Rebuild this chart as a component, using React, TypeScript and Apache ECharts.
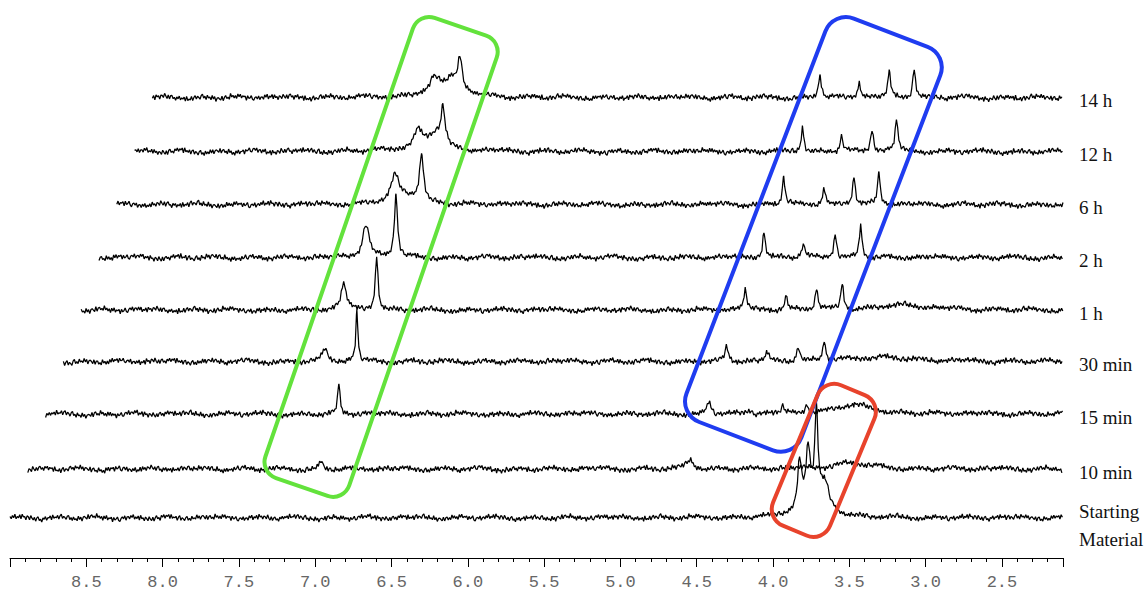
import React, { useEffect, useRef } from "react";
import * as echarts from "echarts";

// ---------- data ----------
const ROW_LABELS = ["Starting\nMaterial", "10 min", "15 min", "30 min", "1 h", "2 h", "6 h", "12 h", "14 h"];
const PPM_MAX = 9.0;
const PPM_MIN = 2.1;

// peaks per trace: [ppm, height, half-width]
const PEAKS_SM = [[3.826, 48, 0.014], [3.77, 52, 0.016], [3.716, 88, 0.012], [3.66, 26, 0.035], [3.75, 18, 0.09]];
const PEAKS_10MIN = [[7.079, 9, 0.012], [4.661, 9, 0.03], [3.6, 6, 0.15]];
const PEAKS_15MIN = [[7.078, 30, 0.009], [4.653, 13, 0.015], [4.39, 4, 0.015], [4.17, 6, 0.012], [4.01, 9, 0.012], [3.7, 9, 0.15]];
const PEAKS_30MIN = [[7.077, 50, 0.008], [7.286, 13, 0.02], [4.654, 16, 0.011], [4.388, 9, 0.012], [4.185, 16, 0.011], [4.014, 20, 0.011], [3.65, 5, 0.2]];
const PEAKS_1H = [[7.064, 55, 0.011], [7.279, 27, 0.02], [4.649, 21, 0.011], [4.382, 13, 0.012], [4.181, 21, 0.011], [4.013, 25, 0.011], [3.635, 5, 0.2]];
const PEAKS_2H = [[7.054, 62, 0.013], [7.251, 34, 0.025], [4.643, 26, 0.011], [4.385, 13, 0.013], [4.176, 25, 0.011], [4.009, 32, 0.011]];
const PEAKS_6H = [[7.003, 48, 0.016], [7.178, 25, 0.03], [7.1, 8, 0.1], [4.63, 27, 0.011], [4.366, 19, 0.011], [4.17, 28, 0.011], [4.006, 31, 0.011]];
const PEAKS_12H = [[6.98, 38, 0.018], [7.03, 10, 0.03], [7.143, 13, 0.025], [7.1, 11, 0.11], [4.623, 25, 0.011], [4.367, 16, 0.011], [4.168, 23, 0.011], [4.007, 33, 0.011]];
const PEAKS_14H = [[6.985, 35, 0.018], [7.037, 12, 0.03], [7.155, 10, 0.025], [7.11, 12, 0.11], [4.626, 24, 0.011], [4.368, 15, 0.011], [4.172, 24, 0.011], [4.008, 30, 0.011]];
const PEAKS = [PEAKS_SM, PEAKS_10MIN, PEAKS_15MIN, PEAKS_30MIN, PEAKS_1H, PEAKS_2H, PEAKS_6H, PEAKS_12H, PEAKS_14H];

// baseline noise texture (hand-written values)
const NOISE_A = [0.6, -1.1, 1.4, -0.3, 1.9, -1.6, 0.2, -0.8, 1.2, -1.9, 1.7, -0.5, 0.4, -2.0, 0.9, 0.3, -1.3, 1.8, -0.1, -1.5, 1.1, -1.8, 0.7, 1.5, -0.9, 0.1, -2.1, 1.0, -0.4, 1.6, -1.2, 0.8, -0.2, 1.3, -1.7, 2.0, -1.0, 0.0, -0.7, 1.2, -1.9, 0.5, 1.7, -1.4, 0.6, -0.3, -1.6, 0.9, 1.9, -1.1, 0.4, -1.8, 1.5, -0.6, 0.2, -1.4, 1.8, -0.8, 1.0, -2.0, 0.3, 0.9, -0.2, -1.2, 1.6, -1.7, 0.7, 1.3, -1.0, 0.1, -1.5, 2.1, -0.5, 0.8, -1.3, 0.3, -1.9, 1.4, -0.7, 1.7, -1.1, 0.6, -0.1, 1.0, -2.0, 1.3, -0.6, 0.2, 1.8, -0.9, -1.6, 0.7, 1.2, -0.4, 1.9, -1.4, 0.5];
const NOISE_B = [0.4, 0.9, 1.2, 0.6, -0.2, -0.9, -1.3, -0.8, 0.1, 0.7, 1.1, 0.5, -0.3, -1.0, -0.6, 0.2, 1.0, 1.4, 0.8, 0.0, -0.7, -1.2, -1.4, -0.5, 0.3, 0.6, 0.2, -0.4, -1.1, -0.8, 0.1, 0.9, 1.3, 0.7, -0.1, -0.6, -0.9, -0.3, 0.5, 1.0, 0.3];

// ---------- layout ----------
const W = 1148;
const H = 591;
const AXIS_LEFT = 10;
const AXIS_RIGHT = 1063;
const PX_PER_PPM = (AXIS_RIGHT - AXIS_LEFT) / (PPM_MAX - PPM_MIN);
const ROW_SHIFT = 17.8;
const BASELINES = [521, 469, 414, 361.5, 310, 257.5, 204.5, 151.5, 97.5];
const STEP = 0.008;
const NOISE_GAIN_A = 1.35;
const NOISE_GAIN_B = 1.2;

function rowEnd(i: number) {
  return PPM_MIN + (i * ROW_SHIFT) / PX_PER_PPM;
}

function buildTrace(i: number) {
  const peaks = PEAKS[i];
  const end = rowEnd(i);
  const n = Math.floor((PPM_MAX - end) / STEP);
  const xs: { ppm: number; k: number }[] = [];
  for (let k = 0; k <= n; k++) xs.push({ ppm: PPM_MAX - k * STEP, k });
  for (const p of peaks) {
    if (p[0] <= PPM_MAX && p[0] >= end) xs.push({ ppm: p[0], k: Math.round((PPM_MAX - p[0]) / STEP) });
  }
  xs.sort((a, b) => b.ppm - a.ppm);
  return xs.map(({ ppm, k }) => {
    let y =
      NOISE_A[(k + i * 13) % NOISE_A.length] * NOISE_GAIN_A +
      NOISE_B[(Math.floor(k / 4) + i * 7) % NOISE_B.length] * NOISE_GAIN_B;
    for (const [c, h, w] of peaks) {
      const d = (ppm - c) / w;
      y += h / (1 + d * d);
    }
    return [ppm, y];
  });
}

export default function App() {
  const ref = useRef<HTMLDivElement>(null);
  useEffect(() => {
    document.body.style.margin = "0";
    if (!ref.current) return;
    const chart = echarts.init(ref.current, undefined, { renderer: "svg" });
    const grids: any[] = [];
    const xAxes: any[] = [];
    const yAxes: any[] = [];
    const series: any[] = [];
    for (let i = 0; i < ROW_LABELS.length; i++) {
      const yMax = i === 0 ? 120 : 80;
      grids.push({
        left: AXIS_LEFT + i * ROW_SHIFT,
        right: W - AXIS_RIGHT,
        top: BASELINES[i] - yMax,
        height: yMax + 10,
      });
      if (i === 0) {
        xAxes.push({
          gridIndex: 0,
          type: "value",
          inverse: true,
          min: PPM_MIN,
          max: PPM_MAX,
          splitNumber: 14,
          minInterval: 0.5,
          maxInterval: 0.5,
          offset: 561.5 - (BASELINES[0] + 10),
          axisLine: { show: true, onZero: false, lineStyle: { color: "#000", width: 1 } },
          axisTick: { show: true, inside: false, length: 9, lineStyle: { color: "#000", width: 1 } },
          minorTick: { show: true, splitNumber: 5, length: 4, lineStyle: { color: "#000", width: 1 } },
          splitLine: { show: false },
          minorSplitLine: { show: false },
          axisLabel: {
            show: true,
            margin: 16,
            showMinLabel: false,
            showMaxLabel: false,
            color: "#666",
            fontFamily: "Liberation Mono",
            fontSize: 17,
            formatter: (v: number) => v.toFixed(1),
          },
        });
      } else {
        xAxes.push({
          gridIndex: i,
          type: "value",
          inverse: true,
          min: rowEnd(i),
          max: PPM_MAX,
          show: false,
          splitLine: { show: false },
        });
      }
      yAxes.push({ gridIndex: i, type: "value", min: -10, max: yMax, show: false, splitLine: { show: false } });
      series.push({
        type: "line",
        xAxisIndex: i,
        yAxisIndex: i,
        data: buildTrace(i),
        showSymbol: false,
        symbol: "none",
        silent: true,
        lineStyle: { color: "#000", width: 1.25 },
      });
    }

    const deg = Math.PI / 180;
    const box = (cx: number, cy: number, w: number, h: number, r: number, angle: number, color: string) => ({
      type: "rect",
      x: cx,
      y: cy,
      rotation: -angle * deg,
      z: 100,
      silent: true,
      shape: { x: -w / 2, y: -h / 2, width: w, height: h, r },
      style: { fill: "none", stroke: color, lineWidth: 4 },
    });

    const labels = ROW_LABELS.map((t, i) => ({
      type: "text",
      x: 1079,
      y: i === 0 ? 525 : BASELINES[i] + 3,
      z: 100,
      silent: true,
      style: {
        text: t,
        fill: "#111",
        fontFamily: "Liberation Serif",
        fontSize: 19,
        lineHeight: 28,
        align: "left",
        verticalAlign: "middle",
        textAlign: "left",
        textVerticalAlign: "middle",
      },
    }));

    chart.setOption({
      animation: false,
      backgroundColor: "#fff",
      grid: grids,
      xAxis: xAxes,
      yAxis: yAxes,
      series,
      graphic: [
        box(381.1, 256.9, 88.6, 486.5, 17, 19, "#63e23c"),
        box(813.4, 234.4, 123, 432, 22, 21, "#1f3cf0"),
        box(823.8, 460.4, 61.6, 152, 18, 22.5, "#e8432c"),
        ...labels,
      ],
    });
    return () => chart.dispose();
  }, []);
  return <div ref={ref} style={{ width: W, height: H }} />;
}
